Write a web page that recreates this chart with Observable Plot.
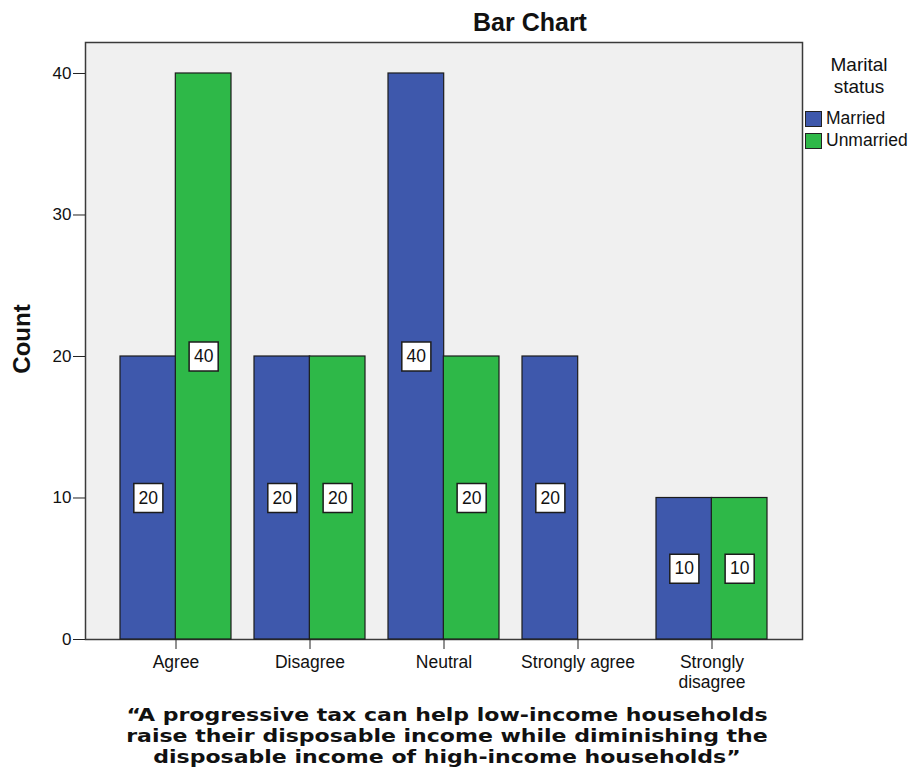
<!DOCTYPE html>
<html>
<head>
<meta charset="utf-8">
<script src="https://cdn.jsdelivr.net/npm/d3@7"></script>
<script src="https://cdn.jsdelivr.net/npm/@observablehq/plot@0.6"></script>
<style>
  html, body { margin: 0; padding: 0; background: #ffffff; }
  #page { position: relative; width: 917px; height: 778px; overflow: hidden; font-family: "Liberation Sans", Arial, sans-serif; color: #111; }
  #chart { position: absolute; left: 0; top: 0; }
  #title { position: absolute; left: 380px; width: 300px; top: 10px; text-align: center; font-weight: bold; font-size: 25px; line-height: 25px; }
  #ylabel { position: absolute; left: 22px; top: 339px; transform: translate(-50%, -50%) rotate(-90deg); font-weight: bold; font-size: 24px; white-space: nowrap; }
  #legend-title { position: absolute; left: 808px; width: 102px; top: 54px; text-align: center; font-size: 19px; line-height: 21.5px; }
  .lg-row { position: absolute; left: 805px; height: 16px; }
  .lg-sw { position: absolute; left: 0; top: 0; width: 15px; height: 14px; border: 1px solid #222; }
  .lg-tx { position: absolute; left: 21px; top: -3px; font-size: 17.5px; line-height: 21px; white-space: nowrap; }
  #caption { position: absolute; left: 97px; width: 700px; top: 704px; text-align: center; font-family: "DejaVu Sans", Verdana, sans-serif; font-weight: bold; font-size: 18.5px; line-height: 21px; white-space: nowrap; transform: scaleX(1.19); transform-origin: 350px 0; }
</style>
</head>
<body>
<div id="page">
  <div id="chart"></div>
  <div id="title"></div>
  <div id="ylabel"></div>
  <div id="legend-title"></div>
  <div id="legend"></div>
  <div id="caption"></div>
</div>
<script>
// ---- data ----
const categories = ["Agree", "Disagree", "Neutral", "Strongly agree", "Strongly disagree"];
const tickLabels = ["Agree", "Disagree", "Neutral", "Strongly agree", "Strongly\ndisagree"];
const statuses = ["Married", "Unmarried"];
const marriedCounts = [20, 20, 40, 20, 10];
const unmarriedCounts = [40, 20, 20, 0, 10];
const colors = ["#3E58AC", "#2EB848"];
const yTicks = [0, 10, 20, 30, 40];
const titleText = "Bar Chart";
const yLabelText = "Count";
const legendTitleLines = ["Marital", "status"];
const captionLines = [
  "\u201CA progressive tax can help low-income households",
  "raise their disposable income while diminishing the",
  "disposable income of high-income households\u201D"
];

// ---- layout ----
const W = 917, H = 700, mL = 85, mR = 115, mT = 42, mB = 61;
const padIn = 0.1746, padOut = 0.262;
const yMax = 42.19;

const married = categories.map((c, i) => ({category: c, status: statuses[0], count: marriedCounts[i]}));
const unmarried = categories.map((c, i) => ({category: c, status: statuses[1], count: unmarriedCounts[i]}));

const xs = Plot.scale({x: {type: "band", domain: categories, range: [mL, W - mR], paddingInner: padIn, paddingOuter: padOut}});
const half = xs.bandwidth / 2;

const barStroke = "#1c1c1c";
const labelMarks = (rows, shift) => [
  Plot.dot(rows.filter(d => d.count > 0), {x: "category", y: d => d.count / 2, dx: shift, symbol: "square", r: 16.4, fill: "white", stroke: "#1c1c1c", strokeWidth: 1.5}),
  Plot.text(rows.filter(d => d.count > 0), {x: "category", y: d => d.count / 2, dx: shift, text: d => String(d.count), fontSize: 17.5, fill: "#111"})
];

const chart = Plot.plot({
  width: W, height: H,
  marginLeft: mL, marginRight: mR, marginTop: mT, marginBottom: mB,
  style: {background: "transparent", fontFamily: "'Liberation Sans', Arial, sans-serif", color: "#111"},
  x: {domain: categories, paddingInner: padIn, paddingOuter: padOut, label: null},
  y: {domain: [0, yMax], label: null},
  marks: [
    Plot.frame({fill: "#f0f0f0", stroke: "#3a3a3a", strokeWidth: 1.5}),
    Plot.barY(married, {x: "category", y: "count", fill: colors[0], stroke: barStroke, strokeWidth: 1.2, insetLeft: 0, insetRight: half}),
    Plot.barY(unmarried, {x: "category", y: "count", fill: colors[1], stroke: barStroke, strokeWidth: 1.2, insetLeft: half, insetRight: 0}),
    Plot.axisY({ticks: yTicks, tickSize: 12, tickPadding: 2, fontSize: 17, label: null, stroke: "#222"}),
    Plot.axisX({tickSize: 10, tickPadding: 4, fontSize: 17.5, label: null, lineHeight: 1.15, stroke: "#222",
      tickFormat: c => tickLabels[categories.indexOf(c)]}),
    ...labelMarks(married, -half / 2),
    ...labelMarks(unmarried, half / 2)
  ]
});
document.getElementById("chart").appendChild(chart);

document.getElementById("title").textContent = titleText;
document.getElementById("ylabel").textContent = yLabelText;
document.getElementById("legend-title").innerHTML = legendTitleLines.join("<br>");
document.getElementById("caption").innerHTML = captionLines.join("<br>");

const legend = document.getElementById("legend");
statuses.forEach((s, i) => {
  const row = document.createElement("div");
  row.className = "lg-row";
  row.style.top = (111 + i * 22) + "px";
  const sw = document.createElement("div");
  sw.className = "lg-sw";
  sw.style.background = colors[i];
  const tx = document.createElement("div");
  tx.className = "lg-tx";
  tx.textContent = s;
  row.appendChild(sw); row.appendChild(tx);
  legend.appendChild(row);
});
</script>
</body>
</html>
